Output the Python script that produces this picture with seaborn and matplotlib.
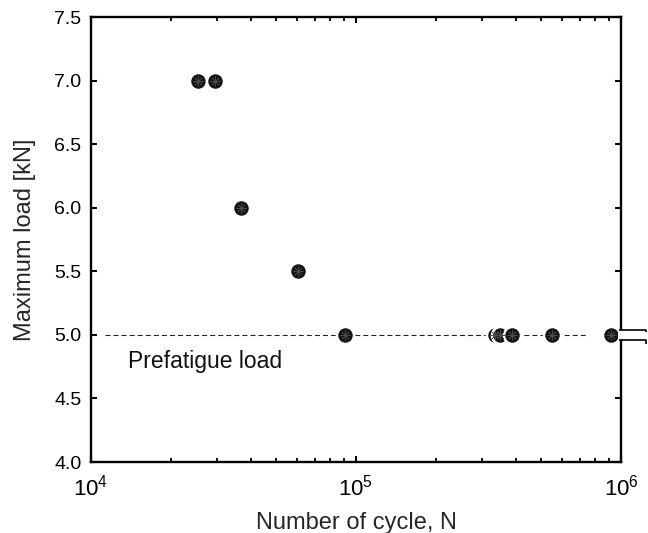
import matplotlib
matplotlib.use("Agg")
import matplotlib.pyplot as plt
import matplotlib.ticker as mticker
import matplotlib.transforms as mtransforms
from matplotlib.patches import Rectangle
import numpy as np
import pandas as pd
import seaborn as sns

# Fatigue test results: cycles to failure vs. maximum applied load
cycles = [25300, 29300, 36700, 60200, 91200, 335000, 350000, 388000, 550000, 918000]
max_load = [7.0, 7.0, 6.0, 5.5, 5.0, 5.0, 5.0, 5.0, 5.0, 5.0]

prefatigue_load = 5.0
prefatigue_span = [11300, 740000]

y_ticks = [4.0, 4.5, 5.0, 5.5, 6.0, 6.5, 7.0, 7.5]
x_ticks = [1e4, 1e5, 1e6]

sns.set_style("ticks")
plt.rcParams["font.family"] = ["Liberation Sans", "DejaVu Sans"]
plt.rcParams["mathtext.fontset"] = "custom"
plt.rcParams["mathtext.rm"] = "Liberation Sans"
plt.rcParams["mathtext.it"] = "Liberation Sans:italic"
plt.rcParams["lines.scale_dashes"] = False

df = pd.DataFrame({"N": cycles, "load": max_load})

fig = plt.figure(figsize=(6.48, 5.33), dpi=100)
ax = fig.add_axes([0.1404, 0.1332, 0.9583 - 0.1404, 0.9681 - 0.1332])

# prefatigue reference level
ax.plot(prefatigue_span, [prefatigue_load, prefatigue_load], color="#222222",
        lw=0.8, ls=(0, (3.6, 2.2)), zorder=1)

sns.scatterplot(data=df, x="N", y="load", ax=ax, s=150, color="#151515",
                edgecolor="white", linewidth=1.8, zorder=3, legend=False)
# fine radial texture on the markers
ax.scatter(df["N"], df["load"], marker=(8, 2, 0), s=50, color="#4a4a4a",
           linewidths=0.4, zorder=4)

ax.set_xscale("log")
ax.set_xlim(1e4, 1e6)
ax.set_ylim(4.0, 7.5)
ax.set_xticks(x_ticks)
ax.xaxis.set_minor_locator(mticker.LogLocator(base=10, subs=np.arange(2, 10)))
ax.xaxis.set_minor_formatter(mticker.NullFormatter())
ax.set_yticks(y_ticks)
ax.set_yticklabels([f"{v:.1f}" for v in y_ticks])

for side in ["top", "right", "bottom", "left"]:
    ax.spines[side].set_visible(True)
    ax.spines[side].set_linewidth(1.7)
    ax.spines[side].set_color("black")

ax.tick_params(axis="both", which="major", direction="in", length=4.5, width=1.5,
               top=True, right=True, pad=6, colors="black")
ax.tick_params(axis="y", which="major", labelsize=14, pad=7)
ax.tick_params(axis="x", which="major", labelsize=16, pad=9)
ax.tick_params(axis="x", which="minor", direction="in", length=2.6, width=1.3,
               top=True, bottom=True, colors="black")

ax.set_xlabel("Number of cycle, N", fontsize=17, labelpad=8)
ax.set_ylabel("Maximum load [kN]", fontsize=17, labelpad=13)

ax.text(1.38e4, 4.79, "Prefatigue load", fontsize=16.5, va="center", ha="left",
        color="#111111")

# axis break marker on the right spine at the prefatigue level
brk = mtransforms.blended_transform_factory(ax.transAxes, ax.transData)
ax.add_patch(Rectangle((0.994, 4.963), 0.06, 0.074, transform=brk,
                       facecolor="white", edgecolor="none", clip_on=False, zorder=6))
for yy, hook in [(5.037, 5.02), (4.963, 4.925)]:
    ax.plot([0.997, 1.047, 1.047], [yy, yy, hook], transform=brk, color="black",
            lw=1.2, clip_on=False, zorder=7, solid_capstyle="butt")

fig.savefig("out.png", dpi=100)
